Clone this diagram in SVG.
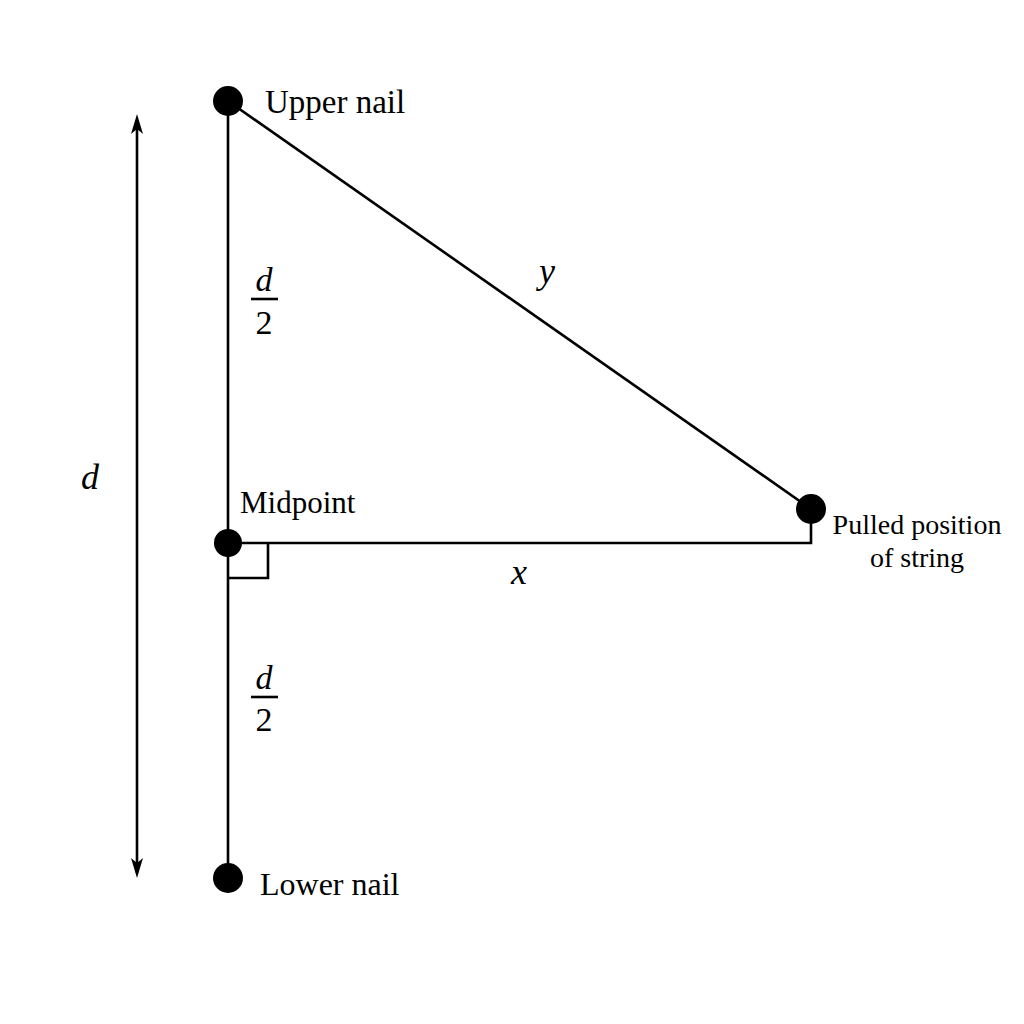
<svg xmlns="http://www.w3.org/2000/svg" width="1024" height="1024" viewBox="0 0 1024 1024">
<defs>
<style>
.ln{stroke:#000;stroke-width:2.6;fill:none}
.nail{fill:#000}
.head{fill:#000}
.lbl{font-family:"Liberation Serif",serif;fill:#000}
.it{font-family:"Liberation Serif",serif;font-style:italic;fill:#000}
</style>
</defs>
<rect width="1024" height="1024" fill="#fff"/>
<g id="connectors">
<line class="ln" x1="228" y1="101" x2="228" y2="878"/>
<line class="ln" x1="228" y1="101" x2="811" y2="509"/>
<polyline class="ln" points="228,543 811,543 811,520"/>
<polyline class="ln" points="268,543 268,578 228,578"/>
<line class="ln" x1="137" y1="120" x2="137" y2="873"/>
<path class="head" d="M137,114 L143,134 L137,129 L131,134 Z"/>
<path class="head" d="M137,878 L143,858 L137,863 L131,858 Z"/>
</g>
<g id="upper-nail">
<circle class="nail" cx="228" cy="101" r="15"/>
<text class="lbl" x="265" y="113" font-size="33">Upper nail</text>
</g>
<g id="midpoint">
<circle class="nail" cx="228" cy="543" r="14"/>
<text class="lbl" x="240" y="513" font-size="31">Midpoint</text>
</g>
<g id="pulled">
<circle class="nail" cx="811" cy="509" r="15"/>
<text class="lbl" x="917" y="534" font-size="28" text-anchor="middle">Pulled position</text>
<text class="lbl" x="917" y="567" font-size="28" text-anchor="middle">of string</text>
</g>
<g id="lower-nail">
<circle class="nail" cx="228" cy="878" r="15"/>
<text class="lbl" x="260" y="895" font-size="32">Lower nail</text>
</g>
<g id="labels">
<text class="it" x="90" y="489" font-size="36" text-anchor="middle">d</text>
<text class="it" x="547" y="283" font-size="36" text-anchor="middle">y</text>
<text class="it" x="519" y="584" font-size="36" text-anchor="middle">x</text>
<text class="it" x="264" y="291" font-size="34" text-anchor="middle">d</text>
<line class="ln" x1="251" y1="299" x2="278" y2="299" stroke-width="2"/>
<text class="lbl" x="264" y="334" font-size="34" text-anchor="middle">2</text>
<text class="it" x="264" y="689" font-size="34" text-anchor="middle">d</text>
<line class="ln" x1="251" y1="697" x2="278" y2="697" stroke-width="2"/>
<text class="lbl" x="264" y="731" font-size="34" text-anchor="middle">2</text>
</g>
</svg>
